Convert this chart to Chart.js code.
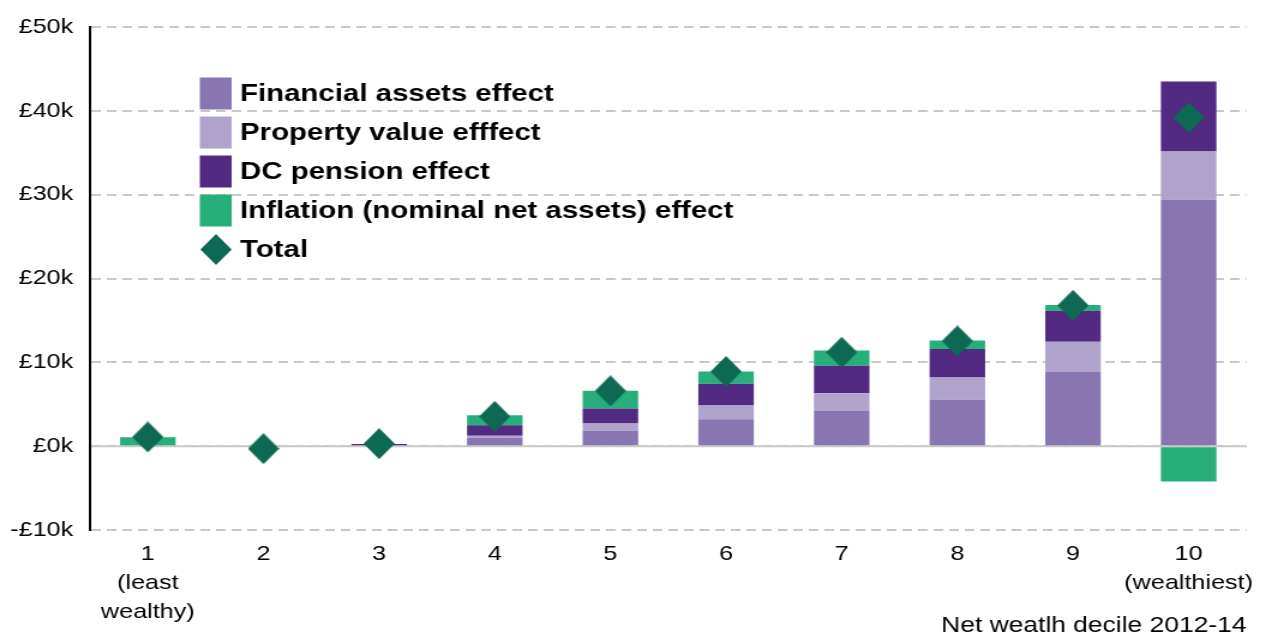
<!DOCTYPE html>
<html>
<head>
<meta charset="utf-8">
<script src="https://cdn.jsdelivr.net/npm/chart.js@4.4.1/dist/chart.umd.min.js"></script>
<style>
  html, body { margin: 0; padding: 0; background: #fff; overflow: hidden; }
  /* the reference is drawn a bit wider than tall, so stretch the chart sideways */
  #wrap { width: 1055px; height: 640px; transform: scaleX(1.2); transform-origin: 0 0; }
</style>
</head>
<body>
<div id="wrap"><canvas id="myChart"></canvas></div>
<script>
const deciles = [
  ['1', '(least', 'wealthy)'], '2', '3', '4', '5', '6', '7', '8', '9', ['10', '(wealthiest)']
];

// £k per household
const financial = [0, 0, 0, 1.0, 1.85, 3.2, 4.25, 5.55, 8.9, 29.4];
const property = [0, 0, 0, 0.25, 0.85, 1.65, 2.05, 2.65, 3.55, 5.75];
const dcPension = [0, 0, 0.25, 1.25, 1.8, 2.6, 3.3, 3.4, 3.7, 8.35];
const inflation = [1.05, 0, 0, 1.2, 2.1, 1.45, 1.8, 1.0, 0.7, -4.2];
const total = [1.1, -0.3, 0.3, 3.55, 6.6, 8.9, 11.2, 12.55, 16.8, 39.2];

const yTicks = [-10, 0, 10, 20, 30, 40, 50];

const FONT = '"Liberation Sans", Arial, sans-serif';

// diamond marker, narrower than tall so it comes out square after the stretch
const diamond = document.createElement('canvas');
diamond.width = 26;
diamond.height = 31;
(() => {
  const c = diamond.getContext('2d');
  c.fillStyle = '#0e6954';
  c.beginPath();
  c.moveTo(13, 0);
  c.lineTo(26, 15.5);
  c.lineTo(13, 31);
  c.lineTo(0, 15.5);
  c.closePath();
  c.fill();
})();

const zeroLine = {
  id: 'zeroLine',
  beforeDatasetsDraw(chart) {
    const {ctx, chartArea, scales} = chart;
    const y = scales.y.getPixelForValue(0);
    ctx.save();
    ctx.strokeStyle = '#c8c8c8';
    ctx.lineWidth = 2;
    ctx.beginPath();
    ctx.moveTo(chartArea.left + 1, y);
    ctx.lineTo(chartArea.right, y);
    ctx.stroke();
    ctx.restore();
  }
};

const insideLegend = {
  id: 'insideLegend',
  afterDraw(chart) {
    const ctx = chart.ctx;
    ctx.save();
    ctx.font = 'bold 24.5px ' + FONT;
    ctx.textBaseline = 'middle';
    chart.data.datasets.forEach((ds, i) => {
      const y = 93.5 + i * 39;
      if (ds.type === 'line') {
        ctx.drawImage(diamond, 180 - 13, y - 15.5);
      } else {
        ctx.fillStyle = ds.backgroundColor;
        ctx.fillRect(166.5, y - 16, 26.5, 32);
      }
      ctx.fillStyle = '#000';
      ctx.fillText(ds.label, 200, y + 1);
    });
    ctx.restore();
  }
};

const bar = (label, data, color) => ({
  type: 'bar',
  label,
  data,
  backgroundColor: color,
  stack: 'effects',
  order: 1,
  barPercentage: 0.48,
  categoryPercentage: 1
});

new Chart(document.getElementById('myChart'), {
  data: {
    labels: deciles,
    datasets: [
      bar('Financial assets effect', financial, '#8975b0'),
      bar('Property value efffect', property, '#afa2cb'),
      bar('DC pension effect', dcPension, '#522a81'),
      bar('Inflation (nominal net assets) effect', inflation, '#27ae7b'),
      {
        type: 'line',
        label: 'Total',
        data: total,
        stack: 'total',
        order: 0,
        showLine: false,
        pointStyle: diamond,
        pointRadius: 15,
        pointHoverRadius: 15
      }
    ]
  },
  options: {
    responsive: true,
    maintainAspectRatio: false,
    animation: false,
    layout: { padding: { top: 27, right: 13, bottom: 0, left: 0 } },
    plugins: {
      legend: { display: false },
      tooltip: { enabled: false }
    },
    scales: {
      x: {
        stacked: true,
        grid: { display: false, drawTicks: false },
        border: { display: false },
        ticks: {
          color: '#000',
          font: { family: FONT, size: 21, lineHeight: 1.38 },
          padding: 10,
          maxRotation: 0,
          autoSkip: false
        },
        title: {
          display: true,
          text: 'Net weatlh decile 2012-14',
          align: 'end',
          color: '#000',
          font: { family: FONT, size: 22 },
          padding: { top: 0, bottom: 1 }
        },
        afterFit(scale) { scale.height = 110; }
      },
      y: {
        stacked: true,
        min: yTicks[0],
        max: yTicks[yTicks.length - 1],
        afterBuildTicks(scale) { scale.ticks = yTicks.map(v => ({ value: v })); },
        grid: {
          color: '#c8c8c8',
          lineWidth: 2,
          drawTicks: false
        },
        border: { display: true, color: '#000', width: 2, dash: [8, 5] },
        ticks: {
          color: '#000',
          font: { family: FONT, size: 21 },
          padding: 14,
          callback: v => (v < 0 ? '-£' + Math.abs(v) : '£' + v) + 'k'
        },
        afterFit(scale) { scale.width = 75; }
      }
    }
  },
  plugins: [zeroLine, insideLegend]
});
</script>
</body>
</html>
